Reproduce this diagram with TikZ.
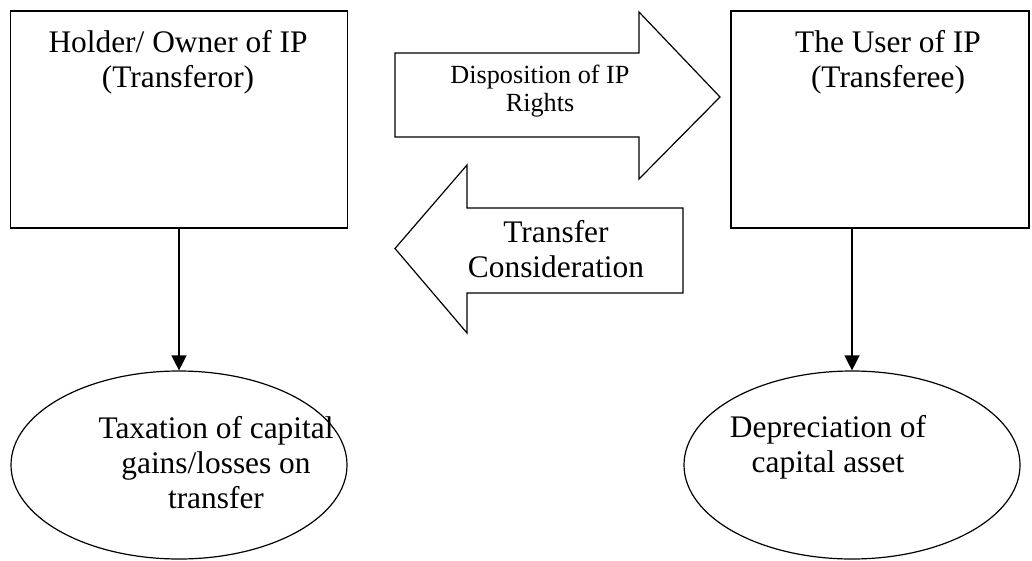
\documentclass[tikz,border=0pt]{standalone}
\usepackage{fontspec}
\setmainfont{Liberation Serif}
\usetikzlibrary{arrows.meta,shapes.geometric}
\begin{document}
\begin{tikzpicture}[x=1pt,y=-1pt,
  boxst/.style={draw, line width=1.5pt, rectangle, inner sep=0pt},
  ellst/.style={draw, line width=1.2pt, ellipse, inner sep=0pt},
  bigarrow/.style={draw, line width=1.2pt, line join=miter},
  bigtext/.style={font=\fontsize{31.4}{35}\selectfont, align=center, anchor=base, inner sep=0pt},
  smalltext/.style={font=\fontsize{26.2}{28.5}\selectfont, align=center, anchor=base, inner sep=0pt},
  conn/.style={line width=1.4pt, -{Triangle[width=15pt,length=15pt]}}]
\useasboundingbox (0,0) rectangle (1032,561);
% boxes
\node[boxst, minimum width=337pt, minimum height=217pt] (lbox) at (179,119.5) {};
\node[boxst, minimum width=298pt, minimum height=217pt] (rbox) at (880,119.5) {};
\node[bigtext] (ltext) at (178,88) {Holder/ Owner of IP\\(Transferor)};
\node[bigtext] (rtext) at (888,88) {The User of IP\\(Transferee)};
% ellipses
\node[ellst, minimum width=336pt, minimum height=188pt] (lell) at (179,465) {};
\node[ellst, minimum width=336pt, minimum height=188pt] (rell) at (852,465) {};
\node[bigtext] (letext) at (216,508) {Taxation of capital\\gains/losses on\\transfer};
\node[bigtext] (retext) at (828,472) {Depreciation of\\capital asset};
% block arrows
\draw[bigarrow] (395,53) -- (639,53) -- (639,12) -- (720,97) -- (639,179) -- (639,137) -- (395,137) -- cycle;
\node[smalltext] (disp) at (540,112) {Disposition of IP\\Rights};
\draw[bigarrow] (683,208) -- (467,208) -- (467,165) -- (395,248.5) -- (467,333) -- (467,293) -- (683,293) -- cycle;
\node[bigtext] (cons) at (556,277) {Transfer\\Consideration};
% connectors
\draw[conn] (lbox.south) -- (lell.north);
\draw[conn] (rbox.south -| rell.north) -- (rell.north);
\end{tikzpicture}
\end{document}
